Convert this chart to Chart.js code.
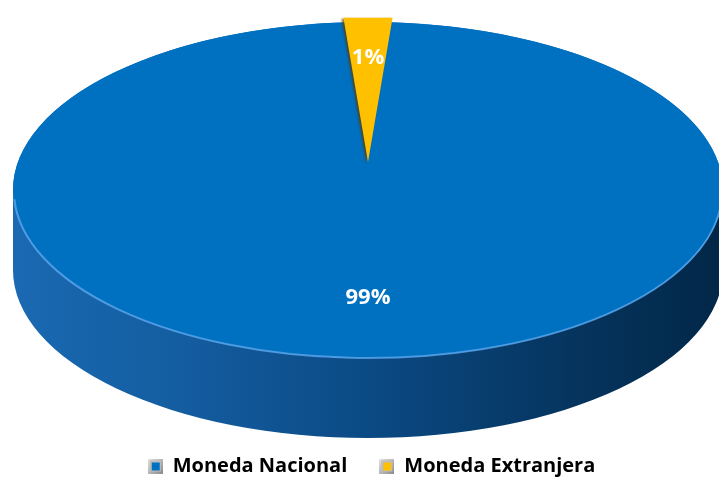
<!DOCTYPE html>
<html>
<head>
<meta charset="utf-8">
<script src="https://cdn.jsdelivr.net/npm/chart.js@4/dist/chart.umd.min.js"></script>
<style>
  html, body { margin: 0; padding: 0; background: #fff; }
  #wrap { width: 719px; height: 478px; position: relative; }
</style>
</head>
<body>
<div id="wrap"><canvas id="chart"></canvas></div>
<script>
const categories = ['Moneda Nacional', 'Moneda Extranjera'];
const shares = [99, 1];
const sliceLabels = ['99%', '1%'];
const sliceColors = ['#0070C0', '#FFC000'];

// look of the tilted disc
const disc = { cx: 368, cy: 190, rx: 355, ry: 168, depth: 80 };
const labelRadius = [0.64, 0.70];
// fake perspective on the exploded slice (it sits at the back)
const backSlice = { kx: 2.3, ky: 0.85 };

function discMatrix(a) {
  const sx = disc.rx / a.outerRadius, sy = disc.ry / a.outerRadius;
  return new DOMMatrix([sx, 0, 0, sy, disc.cx - a.x * sx, disc.cy - a.y * sy]);
}

function backMatrix(a, off) {
  const sy = disc.ry / a.outerRadius;
  const ax = disc.cx, ay = disc.cy - disc.ry - off * sy;
  return new DOMMatrix([backSlice.kx, 0, 0, backSlice.ky,
    ax - ax * backSlice.kx, ay - ay * backSlice.ky]);
}

function legendBox(color) {
  const c = document.createElement('canvas');
  c.width = 15; c.height = 15;
  const x = c.getContext('2d');
  const g = x.createLinearGradient(0, 0, 15, 15);
  g.addColorStop(0, '#e6e6e6');
  g.addColorStop(1, '#8a8a8a');
  x.fillStyle = g;
  x.fillRect(0, 0, 15, 15);
  x.fillStyle = '#bdbdbd';
  x.fillRect(2, 2, 11, 11);
  x.fillStyle = color;
  x.fillRect(4, 4, 8, 8);
  return c;
}

const tiltPlugin = {
  id: 'tilt',
  beforeDatasetsDraw(chart) {
    const ctx = chart.ctx;
    const meta = chart.getDatasetMeta(0);
    const a = meta.data[0];
    const { cx, cy, rx, ry, depth } = disc;

    // back slice gets its own stretch on top of the disc squash
    const back = meta.data[1];
    if (!back._tilted) {
      back._tilted = true;
      const baseDraw = back.draw;
      back.draw = function (c) {
        const m = c.getTransform();
        c.save();
        c.setTransform(backMatrix(a, this.options.offset || 0).multiply(m));
        c.shadowColor = 'rgba(90,60,0,0.7)';
        c.shadowOffsetX = -2;
        c.shadowOffsetY = 1;
        c.shadowBlur = 2;
        baseDraw.call(this, c);
        c.restore();
      };
    }

    // side wall
    ctx.save();
    const g = ctx.createLinearGradient(cx - rx, 0, cx + rx, 0);
    g.addColorStop(0, '#1a69b2');
    g.addColorStop(0.25, '#135c9f');
    g.addColorStop(0.5, '#0b4a84');
    g.addColorStop(0.75, '#063763');
    g.addColorStop(1, '#022747');
    ctx.beginPath();
    ctx.ellipse(cx, cy, rx, ry, 0, 0, Math.PI);
    ctx.ellipse(cx, cy + depth, rx, ry, 0, Math.PI, 0, true);
    ctx.closePath();
    ctx.fillStyle = g;
    ctx.fill();
    // top face underlay
    ctx.beginPath();
    ctx.ellipse(cx, cy, rx, ry, 0, 0, Math.PI * 2);
    ctx.fillStyle = sliceColors[0];
    ctx.fill();
    ctx.restore();

    // squash the round pie into the top face
    ctx.save();
    ctx.setTransform(discMatrix(a).preMultiplySelf(ctx.getTransform()));
  },
  afterDatasetsDraw(chart) {
    const ctx = chart.ctx;
    ctx.restore();
    const { cx, cy, rx, ry } = disc;

    // light rim on the front edge
    ctx.save();
    ctx.beginPath();
    ctx.ellipse(cx, cy + 1, rx - 1, ry - 1, 0, 0.05, Math.PI - 0.05);
    ctx.strokeStyle = 'rgba(90,165,235,0.8)';
    ctx.lineWidth = 2;
    ctx.stroke();
    ctx.restore();

    // slice labels
    const meta = chart.getDatasetMeta(0);
    const a = meta.data[0];
    ctx.save();
    ctx.fillStyle = '#ffffff';
    ctx.textAlign = 'center';
    ctx.textBaseline = 'middle';
    meta.data.forEach((arc, i) => {
      const p = arc.getProps(['x', 'y', 'startAngle', 'endAngle', 'outerRadius'], true);
      const mid = (p.startAngle + p.endAngle) / 2;
      const off = arc.options.offset || 0;
      const r = p.outerRadius * labelRadius[i] + off;
      let pt = new DOMPoint(p.x + Math.cos(mid) * r, p.y + Math.sin(mid) * r);
      pt = discMatrix(a).transformPoint(pt);
      if (i === 1) pt = backMatrix(a, off).transformPoint(pt);
      ctx.font = 'bold 22px "Open Sans", sans-serif';
      ctx.fillText(sliceLabels[i], pt.x, pt.y);
    });
    ctx.restore();
  }
};

new Chart(document.getElementById('chart'), {
  type: 'pie',
  data: {
    labels: categories,
    datasets: [
      {
        data: shares,
        backgroundColor: sliceColors,
        borderWidth: 0,
        offset: [0, 9],
      },
    ],
  },
  options: {
    responsive: true,
    maintainAspectRatio: false,
    animation: false,
    rotation: 1.8,
    layout: { padding: { top: 10, bottom: -8, left: 24 } },
    plugins: {
      legend: {
        position: 'bottom',
        labels: {
          color: '#000000',
          usePointStyle: true,
          pointStyleWidth: 15,
          boxHeight: 15,
          padding: 32,
          font: { family: '"Open Sans", sans-serif', size: 20, weight: 'bold' },
          generateLabels(chart) {
            return categories.map((name, i) => ({
              text: name,
              fillStyle: sliceColors[i],
              strokeStyle: sliceColors[i],
              lineWidth: 0,
              pointStyle: legendBox(sliceColors[i]),
              hidden: false,
              index: i,
            }));
          },
        },
      },
      tooltip: { enabled: false },
    },
  },
  plugins: [tiltPlugin],
});
</script>
</body>
</html>
